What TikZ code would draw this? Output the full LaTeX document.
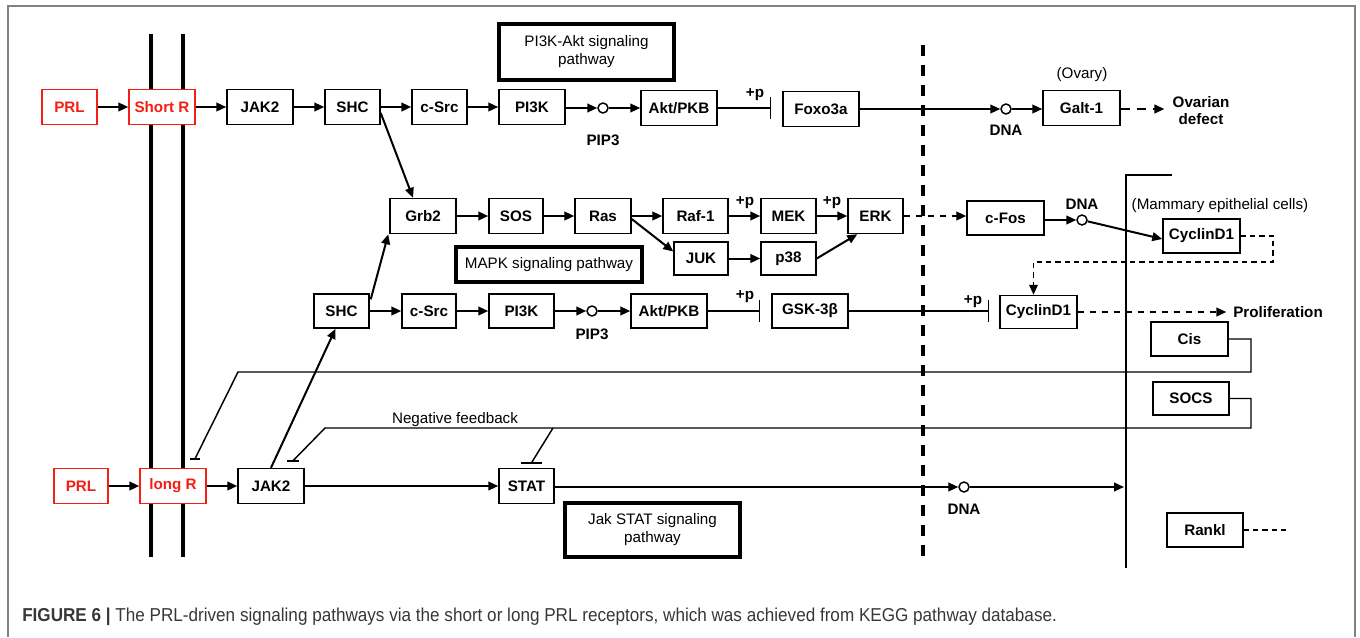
\documentclass[tikz,border=0pt]{standalone}
\usepackage{fontspec}
\setmainfont{Liberation Sans}
\usetikzlibrary{arrows.meta,calc}
\definecolor{capgray}{RGB}{55,55,55}
\definecolor{framegray}{RGB}{130,130,130}
\definecolor{prlred}{RGB}{245,30,20}
\begin{document}
\begin{tikzpicture}[x=0.75pt,y=-0.75pt,
  bx/.style={draw, fill=white, line width=1.1pt, font=\bfseries\fontsize{11.4}{13}\selectfont, inner sep=0pt, align=center},
  sz/.style 2 args={minimum width=#1*0.75pt, minimum height=#2*0.75pt},
  redbx/.style={bx, draw=prlred, text=prlred},
  pw/.style={draw, line width=2.7pt, font=\fontsize{11.4}{13.5}\selectfont, inner sep=0pt, align=center},
  arr/.style={line width=1.5pt, -{Triangle[length=7.5pt,width=6.5pt]}},
  inh/.style={line width=1.1pt, -{Bar[width=16pt]}},
  dna/.style={circle, draw, fill=white, line width=1.1pt, minimum size=7.5pt, inner sep=0pt},
  lbl/.style={font=\bfseries\fontsize{11.4}{13}\selectfont, inner sep=0pt, align=center},
  txt/.style={font=\fontsize{11.4}{13}\selectfont, inner sep=0pt},
  fb/.style={line width=1.1pt},
  dsh/.style={line width=1.5pt, dash pattern=on 5pt off 4pt, -{Triangle[length=7.5pt,width=6.5pt]}},
  thindsh/.style={line width=1.1pt, dash pattern=on 4pt off 3pt}
]
\useasboundingbox (0,0) rectangle (1360,637);
% frame
\draw[framegray, line width=1.1pt] (8,637) -- (8,6) -- (1355,6) -- (1355,637);
% membranes and boundaries
\draw[line width=2.6pt] (151,34) -- (151,557);
\draw[line width=2.6pt] (183,34) -- (183,557);
\draw[line width=2.4pt, dash pattern=on 8.25pt off 6.75pt] (923,45) -- (923,560);
\draw[line width=1.2pt] (1172,175) -- (1126,175) -- (1126,568);

% pathway boxes
\node[pw, sz={175}{56}] (pAkt) at (586.5,52) {PI3K-Akt signaling\\pathway};
\node[pw, sz={186}{35}] (pMAPK) at (549,264.5) {MAPK signaling pathway};
\node[pw, sz={175}{54}] (pJak) at (652.5,530) {Jak STAT signaling\\pathway};

% row 1
\node[redbx, sz={55}{35}] (PRLa) at (69.5,107) {PRL};
\node[redbx, sz={66}{35}] (ShortR) at (162,107) {Short R};
\node[bx, sz={66}{35}] (JAKa) at (260,107) {JAK2};
\node[bx, sz={55}{35}] (SHCa) at (352.5,107) {SHC};
\node[bx, sz={55}{35}] (cSrca) at (439.5,107) {c-Src};
\node[bx, sz={66}{35}] (PIKa) at (532,107) {PI3K};
\node[dna] (pipa) at (603,108) {};
\node[bx, sz={76}{35}] (Akta) at (679,108) {Akt/PKB};
\node[bx, sz={76}{35}] (Foxo) at (821,109) {Foxo3a};
\node[dna] (dnaa) at (1006,109) {};
\node[bx, sz={77}{35}] (Galt) at (1081.5,108) {Galt-1};
\node[lbl] (pipaT) at (603,140) {PIP3};
\node[lbl] (pa) at (755,95) {+p};
\node[lbl] (dnaaT) at (1006,130) {DNA};
\node[txt] (ovary) at (1082,75) {(Ovary)};
\node[lbl, font=\bfseries\fontsize{11.4}{12.8}\selectfont] (ovar) at (1201,111) {Ovarian\\defect};

% row 2
\node[bx, sz={66}{35}] (Grb) at (423,216) {Grb2};
\node[bx, sz={54}{35}] (SOS) at (516,216) {SOS};
\node[bx, sz={56}{35}] (Ras) at (603,216) {Ras};
\node[bx, sz={65}{35}] (Raf) at (695.5,216) {Raf-1};
\node[bx, sz={55}{35}] (MEK) at (788.5,216) {MEK};
\node[bx, sz={55}{35}] (ERK) at (875.5,216) {ERK};
\node[bx, sz={77}{34}] (cFos) at (1005.5,218) {c-Fos};
\node[dna] (dnab) at (1082,220) {};
\node[bx, sz={77}{34}] (CycA) at (1201.5,236) {CyclinD1};
\node[bx, sz={54}{33}] (JUK) at (701,258.5) {JUK};
\node[bx, sz={55}{33}] (p38) at (788.5,258.5) {p38};
\node[lbl] (pb) at (745,203) {+p};
\node[lbl] (pc) at (832,203) {+p};
\node[lbl] (dnabT) at (1082,204) {DNA};
\node[txt] (mam) at (1220,206) {(Mammary epithelial cells)};

% row 3
\node[bx, sz={55}{34}] (SHCb) at (341.5,311) {SHC};
\node[bx, sz={54}{34}] (cSrcb) at (429,311) {c-Src};
\node[bx, sz={65}{34}] (PIKb) at (521.5,311) {PI3K};
\node[dna] (pipb) at (592,311) {};
\node[bx, sz={76}{34}] (Aktb) at (669,311) {Akt/PKB};
\node[bx, sz={76}{34}] (GSK) at (810,311) {GSK-3β};
\node[bx, sz={77}{33}] (CycB) at (1038.5,312) {CyclinD1};
\node[lbl] (pipbT) at (592,334) {PIP3};
\node[lbl] (pd) at (745,297) {+p};
\node[lbl] (pe) at (973,302) {+p};
\node[lbl, anchor=west] (prolif) at (1233,312) {Proliferation};

\node[bx, sz={77}{34}] (Cis) at (1189.5,339) {Cis};
\node[bx, sz={76}{33}] (SOCS) at (1191,398.5) {SOCS};
\node[bx, sz={76}{34}] (Rankl) at (1205,530) {Rankl};

% row 4
\node[redbx, sz={54}{35}] (PRLb) at (81,486) {PRL};
\node[redbx, sz={66}{35}] (longR) at (173,486) {long R};
\node[bx, sz={66}{35}] (JAKb) at (271,486) {JAK2};
\node[bx, sz={55}{35}] (STAT) at (526.5,486) {STAT};
\node[dna] (dnac) at (964,487) {};
\coordinate (nucl) at (1124,487);
\node[lbl] (dnacT) at (964,509) {DNA};
\node[txt] (negfb) at (455,420) {Negative feedback};

% row 1 connectors
\draw[arr] (PRLa) -- (ShortR);
\draw[arr] (ShortR) -- (JAKa);
\draw[arr] (JAKa) -- (SHCa);
\draw[arr] (SHCa) -- (cSrca);
\draw[arr] (cSrca) -- (PIKa);
\draw[arr] (PIKa.east |- pipa) -- (pipa);
\draw[arr] (pipa) -- (Akta);
\draw[inh] (Akta.east) -- ($(Foxo.west |- Akta.east)+(-11,0)$);
\draw[arr] (Foxo) -- (dnaa);
\draw[arr] (dnaa) -- (Galt.west |- dnaa);
\draw[dsh, dash pattern=on 7pt off 5pt, shorten >=6pt] (Galt.east |- dnaa) -- (ovar.west |- dnaa);
\draw[arr] ($(SHCa.east)+(0,6)$) -- ($(Grb.north)+(-10,0)$);

% row 2 connectors
\draw[arr] (Grb) -- (SOS);
\draw[arr] (SOS) -- (Ras);
\draw[arr] (Ras) -- (Raf);
\draw[arr] (Raf) -- (MEK);
\draw[arr] (MEK) -- (ERK);
\draw[arr] ($(Ras.east)+(0,3)$) -- ($(JUK.west)+(0,-7)$);
\draw[arr] (JUK) -- (p38);
\draw[arr] (p38.east) -- ($(ERK.south west)+(10,0)$);
\draw[dsh] (ERK.east) -- (cFos.west |- ERK.east);
\draw[arr] (cFos.east |- dnab) -- (dnab);
\draw[arr] (dnab) -- ($(CycA.west)+(0,3)$);
\draw[thindsh, -{Triangle[length=7.5pt,width=6.5pt]}] (CycA.east) -| (1273,262) -| ($(CycB.north)+(-5,0)$);

% row 3 connectors
\draw[arr] ($(SHCb.north east)+(1,6)$) -- ($(Grb.south west)+(-1,0)$);
\draw[arr] (SHCb) -- (cSrcb);
\draw[arr] (cSrcb) -- (PIKb);
\draw[arr] (PIKb) -- (pipb);
\draw[arr] (pipb) -- (Aktb);
\draw[inh] (Aktb.east) -- ($(GSK.west)+(-11,0)$);
\draw[inh] (GSK.east) -- ($(CycB.west)+(-10,-1)$);
\draw[dsh, shorten >=5pt] (CycB.east) -- (prolif.west);
\draw[thindsh] (Rankl.east) -- ++(44,0);

% row 4 connectors
\draw[arr] (PRLb) -- (longR);
\draw[arr] (longR) -- (JAKb);
\draw[arr] (JAKb) -- (STAT);
\draw[arr] (STAT.east |- dnac) -- (dnac);
\draw[arr] (dnac) -- (nucl);
\draw[arr] (JAKb.north) -- ($(SHCb.south)+(-6,0)$);

% negative feedback
\coordinate (bR) at ($(longR.north)+(22,-9)$);
\coordinate (bJ) at ($(JAKb.north)+(22,-7)$);
\coordinate (bS) at ($(STAT.north)+(5,-5)$);
\draw[fb] (Cis.east) -| (1251,372) -- (238,372) -- (bR);
\draw[fb] ($(bR)+(-5,0)$) -- ($(bR)+(5,0)$);
\draw[fb] (SOCS.east) -| (1251,428) -- (325,428) -- (bJ);
\draw[fb] ($(bJ)+(-6,0)$) -- ($(bJ)+(6,0)$);
\draw[fb] (553,428) -- (bS);
\draw[fb] ($(bS)+(-10.5,0)$) -- ($(bS)+(10.5,0)$);

% caption
\node[anchor=west, inner sep=0pt, text=capgray] (cap) at (22,617)
 {\resizebox{776pt}{\height}{\fontsize{14}{16}\selectfont\textbf{FIGURE 6 |} The PRL-driven signaling pathways via the short or long PRL receptors, which was achieved from KEGG pathway database.}};
\end{tikzpicture}
\end{document}
